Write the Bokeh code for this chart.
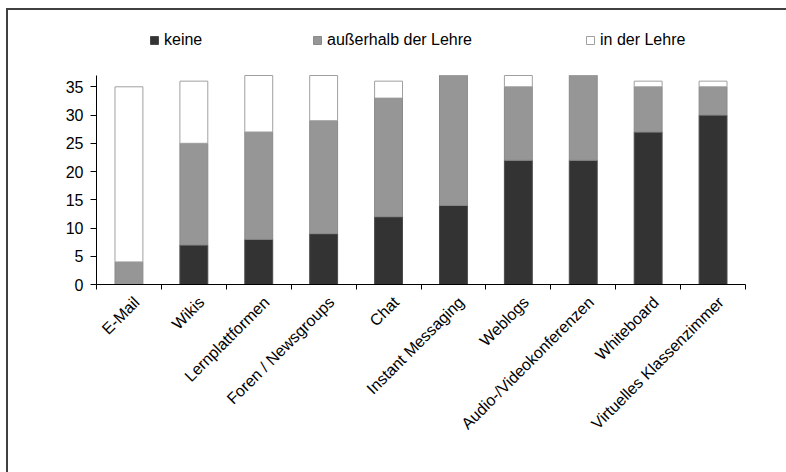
from math import pi

from bokeh.embed import file_html
from bokeh.models import ColumnDataSource, FixedTicker, Legend, LegendItem, Range1d
from bokeh.plotting import figure
from bokeh.resources import INLINE

# Nutzung verschiedener Werkzeuge (Anzahl der Nennungen)
categories = [
    "E-Mail",
    "Wikis",
    "Lernplattformen",
    "Foren / Newsgroups",
    "Chat",
    "Instant Messaging",
    "Weblogs",
    "Audio-/Videokonferenzen",
    "Whiteboard",
    "Virtuelles Klassenzimmer",
]
keine = [0, 7, 8, 9, 12, 14, 22, 22, 27, 30]
ausserhalb = [4, 18, 19, 20, 21, 23, 13, 15, 8, 5]
in_lehre = [31, 11, 10, 8, 3, 0, 2, 0, 1, 1]

series_keys = ["keine", "ausserhalb", "in_lehre"]
series_labels = ["keine", "außerhalb der Lehre", "in der Lehre"]
y_ticks = [0, 5, 10, 15, 20, 25, 30, 35]
y_max = 37

FONT = "Liberation Sans"
FONT_SIZE = "16px"

# canvas geometry (pixels): plot area spans the axis region plus a band
# above it that holds the legend
W, H = 786, 472
AXIS_TOP, AXIS_BOTTOM, FRAME_TOP = 75, 284, 29
AXIS_LEFT, AXIS_RIGHT = 96, 745
y_view_top = y_max * (AXIS_BOTTOM - FRAME_TOP) / (AXIS_BOTTOM - AXIS_TOP)

n = len(categories)
positions = list(range(n))
source = ColumnDataSource(
    dict(x=positions, keine=keine, ausserhalb=ausserhalb, in_lehre=in_lehre)
)

p = figure(
    width=W,
    height=H,
    x_range=Range1d(-0.5, n - 0.5),
    y_range=Range1d(0, y_view_top),
    output_backend="svg",
    toolbar_location=None,
    min_border_left=AXIS_LEFT,
    min_border_right=W - AXIS_RIGHT,
    min_border_top=FRAME_TOP,
    min_border_bottom=H - AXIS_BOTTOM,
)
# chart frame: a dark line along the top and left, painted behind a
# transparent canvas border
p.styles = {
    "background-color": "#ffffff",
    "box-shadow": "inset 6px 8px 0 0 #ffffff, inset 8px 10px 0 0 #404040",
}
p.outline_line_color = None
p.grid.visible = False
p.background_fill_color = "white"
p.border_fill_alpha = 0

renderers = p.vbar_stack(
    series_keys,
    x="x",
    width=0.43,
    source=source,
    fill_color=["#333333", "#969696", "#ffffff"],
    line_color=["#4a4a4a", "#8a8a8a", "#a0a0a0"],
    line_width=1,
)

# x axis: rotated labels ending just right of each bar centre,
# tick marks between the categories
label_shift = 0.12
label_pos = [i + label_shift for i in positions]
xa = p.xaxis[0]
xa.ticker = FixedTicker(ticks=label_pos, minor_ticks=[i - 0.5 for i in range(n + 1)])
xa.major_label_overrides = {t: c for t, c in zip(label_pos, categories)}
xa.major_label_orientation = pi / 4
xa.major_tick_line_color = None
xa.minor_tick_line_color = "black"
xa.minor_tick_in = 0
xa.minor_tick_out = 5
xa.axis_line_color = "black"
xa.major_label_text_font = FONT
xa.major_label_text_font_size = FONT_SIZE
xa.major_label_text_color = "black"
xa.major_label_standoff = 9

ya = p.yaxis[0]
ya.ticker = FixedTicker(ticks=y_ticks)
ya.bounds = (0, y_max)
ya.minor_tick_line_color = None
ya.major_tick_in = 0
ya.major_tick_out = 6
ya.major_tick_line_color = "black"
ya.axis_line_color = "black"
ya.major_label_text_font = FONT
ya.major_label_text_font_size = FONT_SIZE
ya.major_label_text_color = "black"
ya.major_label_standoff = 7

# legend entries spread along the top
legend_x = [53, 216, 489]
for r, label, lx in zip(renderers, series_labels, legend_x):
    leg = Legend(
        items=[LegendItem(label=label, renderers=[r])],
        location=(lx, 235),
        orientation="horizontal",
        glyph_width=10,
        glyph_height=10,
        label_standoff=5,
        padding=0,
        margin=0,
        spacing=0,
        border_line_color=None,
        background_fill_alpha=0,
        label_text_font=FONT,
        label_text_font_size=FONT_SIZE,
        label_text_color="black",
    )
    p.add_layout(leg, "center")

open("out.html", "w").write(file_html(p, INLINE))
